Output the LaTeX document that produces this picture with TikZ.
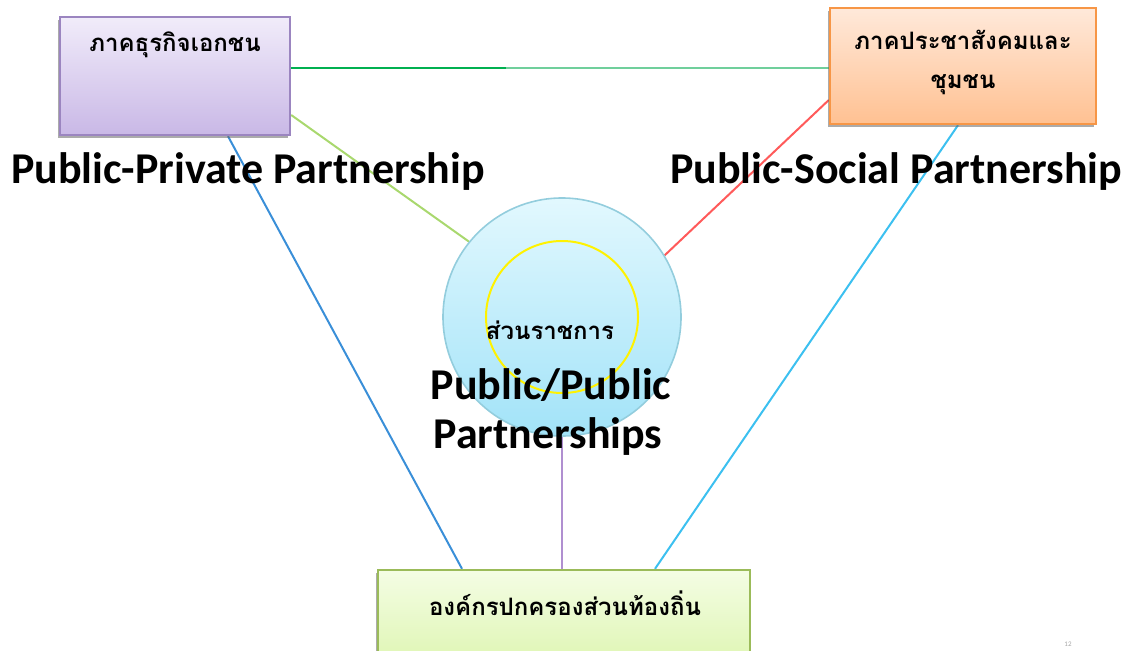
\documentclass[tikz,border=0pt]{standalone}
\usepackage{fontspec}
\setmainfont{Carlito}
\newfontfamily\thai[Script=Thai]{Loma}
\usetikzlibrary{backgrounds,shadows,calc}
\definecolor{pbord}{HTML}{9B85C0}
\definecolor{ptop}{HTML}{F1ECFA}
\definecolor{pbot}{HTML}{C9B8E6}
\definecolor{obord}{HTML}{F79646}
\definecolor{otop}{HTML}{FFE9DA}
\definecolor{obot}{HTML}{FFC192}
\definecolor{gbord}{HTML}{9BBB59}
\definecolor{gtop}{HTML}{F4FDE4}
\definecolor{gbot}{HTML}{DDF5B0}
\definecolor{ctop}{HTML}{E2F8FE}
\definecolor{cbot}{HTML}{A2E3F8}
\definecolor{cbord}{HTML}{93CDDD}
\definecolor{lgreen}{HTML}{00B050}
\definecolor{lgreen2}{HTML}{70CF9C}
\definecolor{llime}{HTML}{A9D86E}
\definecolor{lred}{HTML}{FF5A5A}
\definecolor{lblue}{HTML}{3A8FD8}
\definecolor{lcyan}{HTML}{3CC0F0}
\definecolor{lpurp}{HTML}{B08FD0}
\tikzset{
  box/.style={rectangle, draw, line width=2.4pt, inner sep=0pt,
    drop shadow={shadow xshift=-2pt, shadow yshift=-3pt, opacity=0.55, fill=black!60}},
  thaitxt/.style={font=\thai\bfseries\fontsize{24}{28}\selectfont, inner sep=0pt},
  bigtxt/.style={font=\bfseries\fontsize{44}{52}\selectfont, inner sep=0pt},
  conn/.style={line width=2pt}
}
\begin{document}
\begin{tikzpicture}[x=1pt,y=-1pt]
\useasboundingbox (0,0) rectangle (1126,650);
\clip (0,0) rectangle (1126,650);
% boxes
\node[box, draw=pbord, top color=ptop, bottom color=pbot,
  minimum width=230pt, minimum height=118pt] (pb) at (175,76) {};
\node[box, draw=obord, top color=otop, bottom color=obot,
  minimum width=266pt, minimum height=116pt] (ob) at (963,66) {};
\node[box, draw=gbord, top color=gtop, bottom color=gbot,
  minimum width=372pt, minimum height=100pt] (gb) at (564,620) {};
% circle
\node[circle, draw=cbord, line width=1.6pt, top color=ctop, bottom color=cbot,
  minimum size=238pt, inner sep=0pt] (c) at (562,317) {};
\node[circle, draw=yellow, line width=2pt, minimum size=152pt, inner sep=0pt] (yc) at (562,317) {};
% texts
\node[thaitxt] (pt) at (175,45) {ภาคธุรกิจเอกชน};
\node[thaitxt] (ot1) at (963,40) {ภาคประชาสังคมและ};
\node[thaitxt] (ot2) at (963,85) {ชุมชน};
\node[thaitxt] (gt) at (565,603) {องค์กรปกครองส่วนท้องถิ่น};
\node[thaitxt] (ct) at (550,330) {ส่วนราชการ};
\node[bigtxt] (ppp) at (248,172) {Public-Private Partnership};
\node[bigtxt] (psp) at (896,172) {Public-Social Partnership};
\node[bigtxt] (pub1) at (551,385) {Public/Public};
\node[bigtxt] (pub2) at (548,437) {Partnerships};
\node[font=\fontsize{7}{8}\selectfont, text=gray!70, inner sep=0pt] (pg) at (1068,644) {12};
% connectors
\begin{scope}[on background layer]
\draw[conn, lgreen] ([yshift=8pt]pb.east) -- ($([yshift=8pt]pb.east)!0.4!([yshift=-2pt]ob.west)$) coordinate (mid);
\draw[conn, lgreen2] (mid) -- ([yshift=-2pt]ob.west);
\draw[conn, llime] ([yshift=-39pt]pb.east) -- (c.141);
\draw[conn, lred] ([yshift=-34pt]ob.west) -- (c.31);
\draw[conn, lblue] ([xshift=53pt]pb.south) -- ([xshift=-102pt]gb.north);
\draw[conn, lcyan] ([xshift=-5pt]ob.south) -- ([xshift=91pt]gb.north);
\draw[conn, lpurp] (c.south) -- ([xshift=-2pt]gb.north);
\end{scope}
\end{tikzpicture}
\end{document}
